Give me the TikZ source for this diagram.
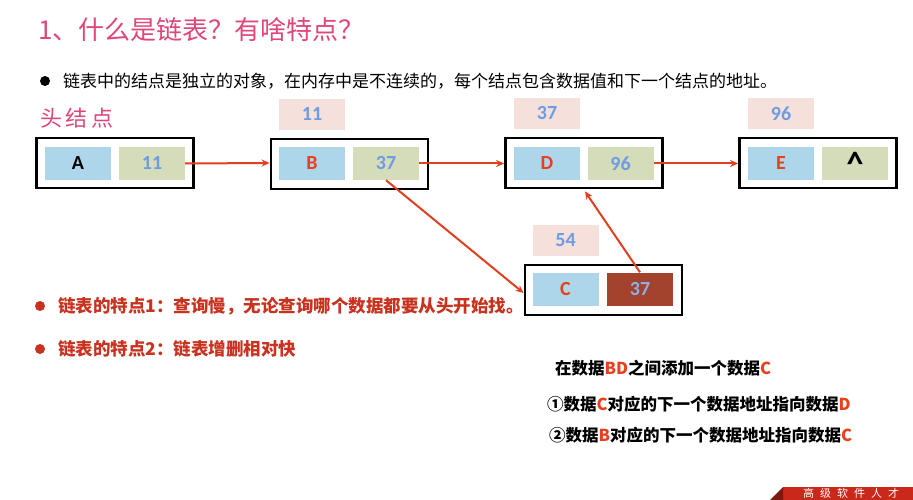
\documentclass[tikz,border=0pt]{standalone}
\usepackage{fontspec}
\setmainfont{Carlito}
\newfontfamily\cjk{Noto Sans CJK SC}
\newfontfamily\lat{Carlito}
\usetikzlibrary{arrows.meta}
\definecolor{cellblue}{HTML}{ADD6EA}
\definecolor{cellgreen}{HTML}{D4DCBA}
\definecolor{lblpink}{HTML}{F5E0DB}
\definecolor{numblue}{HTML}{6E9CE0}
\definecolor{letred}{HTML}{E8401C}
\definecolor{arrred}{HTML}{E0401E}
\definecolor{darkcell}{HTML}{A3432E}
\definecolor{titlepink}{HTML}{E0457B}
\definecolor{bulred}{HTML}{C8321E}
\definecolor{banred}{HTML}{C9281A}
\definecolor{bandark}{HTML}{7A1A10}
\begin{document}
\begin{tikzpicture}[x=1pt,y=-1pt,
 box/.style={draw=black,line width=2.8pt,minimum width=157pt,minimum height=50pt,inner sep=0pt},
 cell/.style={minimum width=66pt,minimum height=33pt,inner sep=0pt,font=\lat\bfseries\fontsize{20}{20}\selectfont},
 cellb/.style={cell,fill=cellblue},
 cellg/.style={cell,fill=cellgreen,text=numblue},
 addr/.style={cell,fill=lblpink,minimum height=31pt,text=numblue},
 arr/.style={draw=arrred,line width=2pt,-{Stealth[length=8pt,width=7pt]}},
 txt/.style={anchor=west,inner sep=0pt}
]
\path[use as bounding box] (0,0) rectangle (913,500);
\clip (0,0) rectangle (913,500);
\fill[white] (0,0) rectangle (913,500);

% title
\node[txt,text=titlepink,font=\cjk\fontsize{26}{26}\selectfont] (title) at (38,30) {1、什么是链表？有啥特点？};

% first bullet
\fill[black] (45,81) circle (5pt);
\node[txt,font=\cjk\fontsize{17}{17}\selectfont] (b1) at (63,81) {链表中的结点是独立的对象，在内存中是不连续的，每个结点包含数据值和下一个结点的地址。};

\node[txt,text=titlepink,font=\cjk\fontsize{22}{22}\selectfont] (head) at (40,118) {头\,结\,点};

% nodes
\node[box] (boxA) at (115,163) {};
\node[cellb] (a1) at (78,163.5) {A};
\node[cellg] (a2) at (152,163.5) {11};

\node[box] (boxB) at (349.5,164) {};
\node[cellb,text=letred] (b1c) at (312,163.5) {B};
\node[cellg] (b2c) at (386,163.5) {37};
\node[addr] (lblB) at (312,114.5) {11};

\node[box] (boxD) at (584,163) {};
\node[cellb,text=letred] (d1) at (547,163.5) {D};
\node[cellg] (d2) at (620.5,163.5) {96};
\node[addr] (lblD) at (547,113.5) {37};

\node[box] (boxE) at (818,163) {};
\node[cellb,text=letred] (e1) at (781,163.5) {E};
\node[cellg,text=black,font=\lat\bfseries\fontsize{34}{34}\selectfont] (e2) at (855,163.5) {\raisebox{-9pt}{\textasciicircum}};

\node[addr] (lblE) at (781,113.5) {96};

\node[box] (boxC) at (603.5,290) {};
\node[cellb,text=letred] (c1) at (565.5,289) {C};
\node[cell,fill=darkcell,text=numblue!80!white] (c2) at (640,289) {37};
\node[addr] (lblC) at (565.5,240) {54};

% arrows
\draw[arr] (a2.east) -- (boxA.east -| boxB.west);
\draw[arr] (b2c.east) -- (b2c.east -| boxD.west);
\draw[arr] (d2.east) -- (d2.east -| boxE.west);
\draw[arr] (b2c.south) -- ([yshift=-3pt]boxC.west);
\draw[arr] (c2.north) -- ([xshift=1pt,yshift=-2pt]boxD.south);

% red bullets
\fill[bulred] (40,306) circle (5pt);
\node[txt,text=bulred,font=\cjk\bfseries\fontsize{17.5}{17.5}\selectfont] (f1) at (58,306) {链表的特点1：查询慢，无论查询哪个数据都要从头开始找。};
\fill[bulred] (40,349) circle (5pt);
\node[txt,text=bulred,font=\cjk\bfseries\fontsize{17.5}{17.5}\selectfont] (f2) at (58,349) {链表的特点2：链表增删相对快};

% right texts
\node[txt,font=\cjk\bfseries\fontsize{16.5}{16.5}\selectfont] (r1) at (555,368) {在数据\textcolor{letred}{BD}之间添加一个数据\textcolor{letred}{C}};
\node[txt,font=\cjk\bfseries\fontsize{16.5}{16.5}\selectfont] (r2) at (547,404) {①数据\textcolor{letred}{C}对应的下一个数据地址指向数据\textcolor{letred}{D}};
\node[txt,font=\cjk\bfseries\fontsize{16.5}{16.5}\selectfont] (r3) at (549,435) {②数据\textcolor{letred}{B}对应的下一个数据地址指向数据\textcolor{letred}{C}};

% banner
\fill[banred] (783,487) -- (913,487) -- (913,500) -- (783,500) -- cycle;
\fill[bandark] (770,500) -- (783,487) -- (783,500) -- cycle;
\node[txt,text=white,font=\cjk\fontsize{11}{11}\selectfont] (ban) at (803,493.5) {高\hspace{6pt}级\hspace{6pt}软\hspace{6pt}件\hspace{6pt}人\hspace{6pt}才};
\end{tikzpicture}
\end{document}
